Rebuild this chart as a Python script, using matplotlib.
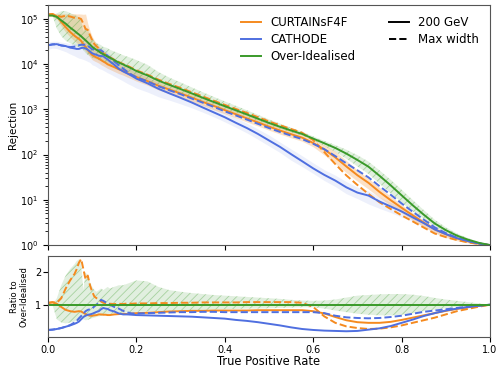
import numpy as np
import matplotlib
matplotlib.use("Agg")
import matplotlib.pyplot as plt
from matplotlib.lines import Line2D

# common signal-efficiency grid
tpr = np.array([
    0.0, 0.01, 0.02, 0.03, 0.04, 0.05, 0.06, 0.065, 0.07, 0.075, 0.08, 0.085,
    0.09, 0.095, 0.10, 0.105, 0.11, 0.115, 0.12, 0.125, 0.13, 0.135, 0.14,
    0.15, 0.16, 0.17, 0.18, 0.19, 0.20, 0.225, 0.25, 0.275, 0.30, 0.325, 0.35,
    0.375, 0.40, 0.425, 0.45, 0.475, 0.50, 0.525, 0.55, 0.575, 0.60, 0.625,
    0.65, 0.675, 0.70, 0.725, 0.75, 0.775, 0.80, 0.825, 0.85, 0.875, 0.90,
    0.925, 0.95, 0.975, 1.0])

# background rejection of the over-idealised reference
ideal_rej = np.array([
    118000, 118000, 110000, 92000, 78000, 64000, 54000, 49000, 45000, 41000,
    37000, 33500, 30000, 27000, 24000, 22000, 20500, 19000, 17500, 16500,
    15500, 14500, 13800, 12200, 10800, 9800, 8800, 7900, 7000, 5600, 4300,
    3450, 2800, 2250, 1800, 1450, 1170, 950, 770, 620, 500, 410, 340, 285,
    225, 178, 140, 105, 76, 54, 34, 21, 12.6, 7.6, 4.7, 3.0, 2.14, 1.62, 1.32,
    1.12, 1.0])

# ratios to the over-idealised rejection
curtains_200 = np.array([
    1.05, 1.07, 1.03, 0.93, 0.84, 0.80, 0.78, 0.79, 0.80, 0.79, 0.75, 0.71,
    0.68, 0.66, 0.66, 0.67, 0.68, 0.70, 0.70, 0.69, 0.69, 0.68, 0.68, 0.70,
    0.71, 0.72, 0.71, 0.73, 0.74, 0.75, 0.77, 0.79, 0.80, 0.81, 0.81, 0.82,
    0.82, 0.82, 0.82, 0.83, 0.83, 0.83, 0.83, 0.83, 0.80, 0.73, 0.62, 0.52,
    0.46, 0.44, 0.44, 0.47, 0.53, 0.60, 0.67, 0.74, 0.81, 0.87, 0.92, 0.96,
    1.0])
curtains_max = np.array([
    1.06, 1.08, 1.06, 1.20, 1.50, 1.75, 1.95, 2.10, 2.30, 2.41, 2.10, 1.78,
    1.90, 1.60, 1.40, 1.25, 1.20, 1.16, 1.10, 1.06, 1.04, 1.02, 1.03, 1.02,
    1.03, 1.02, 1.04, 1.03, 1.04, 1.04, 1.05, 1.05, 1.06, 1.06, 1.07, 1.07,
    1.07, 1.07, 1.08, 1.08, 1.08, 1.08, 1.08, 1.06, 0.93, 0.64, 0.44, 0.33,
    0.28, 0.25, 0.26, 0.30, 0.36, 0.44, 0.52, 0.60, 0.70, 0.80, 0.87, 0.94,
    1.0])
cathode_200 = np.array([
    0.22, 0.23, 0.25, 0.28, 0.32, 0.36, 0.41, 0.44, 0.48, 0.55, 0.62, 0.66,
    0.69, 0.70, 0.72, 0.75, 0.78, 0.80, 0.86, 0.90, 0.88, 0.87, 0.83, 0.79,
    0.73, 0.70, 0.70, 0.69, 0.68, 0.67, 0.66, 0.65, 0.64, 0.63, 0.61, 0.59,
    0.57, 0.53, 0.50, 0.46, 0.41, 0.36, 0.30, 0.25, 0.22, 0.20, 0.19, 0.18,
    0.19, 0.23, 0.27, 0.34, 0.44, 0.54, 0.65, 0.74, 0.82, 0.88, 0.93, 0.97,
    1.0])
cathode_max = np.array([
    0.22, 0.23, 0.25, 0.28, 0.32, 0.37, 0.45, 0.50, 0.58, 0.65, 0.72, 0.80,
    0.84, 0.86, 0.88, 0.95, 1.00, 1.06, 1.15, 1.12, 1.08, 1.05, 1.00, 0.93,
    0.88, 0.81, 0.76, 0.73, 0.73, 0.74, 0.75, 0.76, 0.77, 0.77, 0.78, 0.78,
    0.77, 0.77, 0.77, 0.77, 0.77, 0.77, 0.77, 0.77, 0.77, 0.74, 0.66, 0.61,
    0.59, 0.58, 0.59, 0.62, 0.66, 0.72, 0.78, 0.82, 0.86, 0.90, 0.94, 0.97,
    1.0])

# spread of the over-idealised runs (ratio to median)
ideal_hi = np.array([
    1.0, 1.0, 1.20, 1.60, 1.90, 2.10, 2.25, 2.35, 2.40, 2.30, 1.45, 2.00,
    1.90, 1.70, 1.55, 1.45, 1.40, 1.45, 1.50, 1.45, 1.50, 1.55, 1.50, 1.55,
    1.60, 1.60, 1.65, 1.70, 1.75, 1.72, 1.55, 1.45, 1.40, 1.36, 1.33, 1.30,
    1.28, 1.26, 1.24, 1.22, 1.20, 1.18, 1.15, 1.13, 1.12, 1.13, 1.16, 1.22,
    1.28, 1.30, 1.32, 1.33, 1.33, 1.31, 1.27, 1.21, 1.16, 1.12, 1.08, 1.04,
    1.0])
ideal_lo = np.array([
    1.0, 1.0, 0.55, 0.45, 0.42, 0.45, 0.48, 0.50, 0.52, 0.55, 0.55, 0.52,
    0.53, 0.56, 0.58, 0.60, 0.62, 0.64, 0.66, 0.68, 0.70, 0.71, 0.72, 0.73,
    0.74, 0.75, 0.76, 0.77, 0.78, 0.79, 0.80, 0.81, 0.82, 0.83, 0.84, 0.85,
    0.86, 0.87, 0.88, 0.88, 0.89, 0.90, 0.91, 0.92, 0.92, 0.88, 0.82, 0.77,
    0.72, 0.69, 0.67, 0.67, 0.69, 0.73, 0.80, 0.85, 0.89, 0.93, 0.96, 0.98,
    1.0])

# spread of the CURTAINsF4F and CATHODE runs (ratio to over-idealised)
curtains_hi = np.array([
    1.10, 1.10, 1.18, 1.40, 1.65, 2.00, 2.40, 2.60, 2.85, 3.10, 3.40, 3.80,
    2.60, 2.00, 1.70, 1.50, 1.40, 1.30, 1.25, 1.20, 1.15, 1.10, 1.05, 0.98,
    0.96, 0.95, 0.95, 0.95, 0.95, 0.95, 0.96, 0.97, 0.98, 0.98, 0.98, 0.98,
    0.98, 0.98, 0.98, 0.98, 0.98, 0.98, 0.98, 0.98, 0.95, 0.92, 0.84, 0.70,
    0.60, 0.55, 0.55, 0.57, 0.62, 0.68, 0.75, 0.82, 0.88, 0.92, 0.95, 0.98,
    1.0])
curtains_lo = np.array([
    0.95, 0.95, 0.90, 0.75, 0.65, 0.62, 0.60, 0.60, 0.60, 0.60, 0.60, 0.57,
    0.55, 0.53, 0.52, 0.53, 0.54, 0.55, 0.55, 0.55, 0.55, 0.55, 0.55, 0.56,
    0.57, 0.58, 0.58, 0.59, 0.60, 0.61, 0.62, 0.64, 0.66, 0.66, 0.67, 0.67,
    0.68, 0.68, 0.68, 0.69, 0.69, 0.69, 0.69, 0.69, 0.66, 0.55, 0.45, 0.38,
    0.34, 0.32, 0.33, 0.36, 0.41, 0.47, 0.54, 0.61, 0.69, 0.77, 0.85, 0.92,
    1.0])
cathode_hi = np.array([
    0.26, 0.27, 0.29, 0.33, 0.38, 0.44, 0.52, 0.56, 0.62, 0.70, 0.80, 0.90,
    1.00, 1.05, 1.10, 1.15, 1.20, 1.25, 1.30, 1.35, 1.30, 1.25, 1.20, 1.10,
    1.05, 1.00, 1.00, 0.95, 0.95, 0.90, 0.88, 0.85, 0.82, 0.80, 0.77, 0.74,
    0.72, 0.68, 0.64, 0.59, 0.54, 0.46, 0.39, 0.33, 0.29, 0.26, 0.25, 0.24,
    0.25, 0.29, 0.34, 0.42, 0.53, 0.65, 0.76, 0.85, 0.92, 0.96, 0.98, 0.99,
    1.0])
cathode_lo = np.array([
    0.18, 0.19, 0.20, 0.22, 0.24, 0.26, 0.28, 0.29, 0.30, 0.32, 0.34, 0.36,
    0.38, 0.40, 0.40, 0.42, 0.42, 0.42, 0.44, 0.44, 0.44, 0.44, 0.44, 0.44,
    0.44, 0.43, 0.42, 0.42, 0.42, 0.43, 0.44, 0.46, 0.47, 0.48, 0.48, 0.47,
    0.45, 0.42, 0.39, 0.35, 0.31, 0.27, 0.22, 0.19, 0.17, 0.15, 0.14, 0.13,
    0.14, 0.15, 0.19, 0.25, 0.33, 0.44, 0.54, 0.64, 0.73, 0.82, 0.89, 0.95,
    1.0])

c_orange = "#f58a1f"
c_blue = "#4f6fe0"
c_green = "#3a9a2a"
band_face = (0.23, 0.6, 0.16, 0.15)
band_hatch = (0.23, 0.6, 0.16, 0.35)

plt.rcParams["font.family"] = "DejaVu Sans"
plt.rcParams["hatch.linewidth"] = 0.6

fig = plt.figure(figsize=(5.0, 3.68), dpi=100)
ax = fig.add_axes([0.096, 0.334, 0.884, 0.652])
ax_r = fig.add_axes([0.096, 0.084, 0.884, 0.220], sharex=ax)

# --- rejection curves ---
ax.fill_between(tpr, ideal_rej * cathode_lo, ideal_rej * cathode_hi,
                color=c_blue, alpha=0.1, linewidth=0)
ax.fill_between(tpr, ideal_rej * curtains_lo, ideal_rej * curtains_hi,
                color=c_orange, alpha=0.25, linewidth=0)
ax.fill_between(tpr, ideal_rej * ideal_lo, ideal_rej * ideal_hi,
                facecolor=band_face, edgecolor=band_hatch, hatch="////", linewidth=0)

ax.plot(tpr, ideal_rej * curtains_200, color=c_orange, lw=1.4)
ax.plot(tpr, ideal_rej * curtains_max, color=c_orange, lw=1.4, ls="--")
ax.plot(tpr, ideal_rej * cathode_200, color=c_blue, lw=1.4)
ax.plot(tpr, ideal_rej * cathode_max, color=c_blue, lw=1.4, ls="--")
ax.plot(tpr, ideal_rej, color=c_green, lw=1.4)

ax.set_yscale("log")
ax.set_ylim(1, 2e5)
ax.set_xlim(0, 1)
ax.set_ylabel("Rejection", fontsize=7.5)
ax.yaxis.set_label_coords(-0.068, 0.5)
ax.tick_params(labelsize=7, labelbottom=False)

handles = [
    Line2D([], [], color=c_orange, lw=1.4),
    Line2D([], [], color=c_blue, lw=1.4),
    Line2D([], [], color=c_green, lw=1.4),
    Line2D([], [], color="black", lw=1.4),
    Line2D([], [], color="black", lw=1.4, ls="--"),
    Line2D([], [], color="none"),
]
labels = ["CURTAINsF4F", "CATHODE", "Over-Idealised", "200 GeV", "Max width", ""]
ax.legend(handles, labels, ncol=2, frameon=False, fontsize=8.5,
          loc="upper right", columnspacing=2.8, handlelength=1.7,
          labelspacing=0.35)

# --- ratio panel ---
ax_r.fill_between(tpr, ideal_lo, ideal_hi,
                  facecolor=band_face, edgecolor=band_hatch, hatch="////", linewidth=0)
ax_r.plot(tpr, curtains_200, color=c_orange, lw=1.4)
ax_r.plot(tpr, curtains_max, color=c_orange, lw=1.4, ls="--")
ax_r.plot(tpr, cathode_200, color=c_blue, lw=1.4)
ax_r.plot(tpr, cathode_max, color=c_blue, lw=1.4, ls="--")
ax_r.plot(tpr, ideal_rej / ideal_rej, color=c_green, lw=1.4)

ax_r.set_ylim(0, 2.5)
ax_r.set_yticks([1, 2])
ax_r.set_xticks([0.0, 0.2, 0.4, 0.6, 0.8, 1.0])
ax_r.set_xlabel("True Positive Rate", fontsize=8.3, labelpad=-0.5)
ax_r.set_ylabel("Ratio to\nOver-Idealised", fontsize=6, linespacing=1.0)
ax_r.yaxis.set_label_coords(-0.045, 0.5)
ax_r.tick_params(axis="x", labelsize=7, pad=2.5)
ax_r.tick_params(axis="y", labelsize=7, pad=1.5)

for a in (ax, ax_r):
    for s in a.spines.values():
        s.set_color("#555555")

fig.savefig("out.png", dpi=100)
